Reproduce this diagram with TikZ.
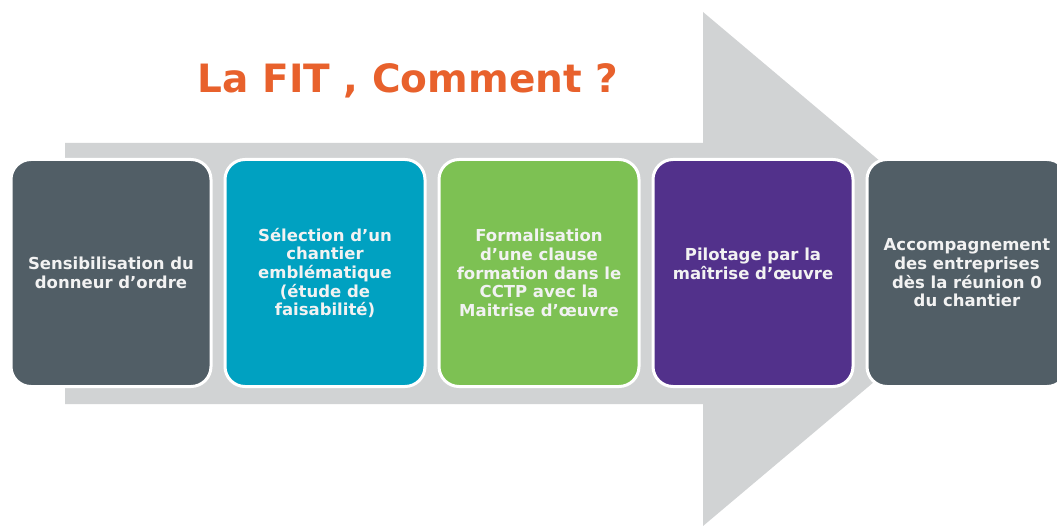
\documentclass[tikz,border=0pt]{standalone}
\usepackage{fontspec}
\setmainfont{DejaVu Sans}
\usepackage{xcolor}
\usepackage{tikz}
\usetikzlibrary{positioning}
\definecolor{slate}{HTML}{515E66}
\definecolor{stepteal}{HTML}{00A1C1}
\definecolor{stepgreen}{HTML}{7DC153}
\definecolor{steppurple}{HTML}{52318B}
\definecolor{bandgrey}{HTML}{D1D3D4}
\definecolor{titleorange}{HTML}{E8612C}
\tikzset{
    stage/.style={rectangle, rounded corners=20pt, draw=white, line width=3pt, minimum width=200pt, minimum height=227pt, align=center, text=white!95!black, font=\bfseries\fontsize{16.5}{18.7}\selectfont},
    band/.style={fill=bandgrey},
    title/.style={text=titleorange, anchor=base, font=\bfseries\fontsize{39}{44}\selectfont}
}

\begin{document}
\begin{tikzpicture}[x=1pt, y=-1pt]
    \useasboundingbox (0,0) rectangle (1057,526);
    \clip (0,0) rectangle (1057,526);
    \fill[white] (0,0) rectangle (1057,526);

    % Background arrow
    \coordinate (tip) at (1008,269);
    \fill[band] (65,143) -- (703,143) -- (703,12) -- (tip) -- (703,526) -- (703,404) -- (65,404) -- cycle;

    % Title
    \node[title] (heading) at (408,93) {La FIT , Comment ?};

    % Steps
    \node[stage, fill=slate] (s1) at (111,273) {Sensibilisation du\\donneur d’ordre};
    \node[stage, fill=stepteal, right=11pt of s1] (s2) {Sélection d’un\\chantier\\emblématique\\(étude de\\faisabilité)};
    \node[stage, fill=stepgreen, right=11pt of s2] (s3) {Formalisation\\d’une clause\\formation dans le\\CCTP avec la\\Maitrise d’œuvre};
    \node[stage, fill=steppurple, right=11pt of s3] (s4) {Pilotage par la\\maîtrise d’œuvre\\\mbox{}};
    \node[stage, fill=slate, right=11pt of s4] (s5) {Accompagnement\\des entreprises\\dès la réunion 0\\du chantier};

\end{tikzpicture}
\end{document}
